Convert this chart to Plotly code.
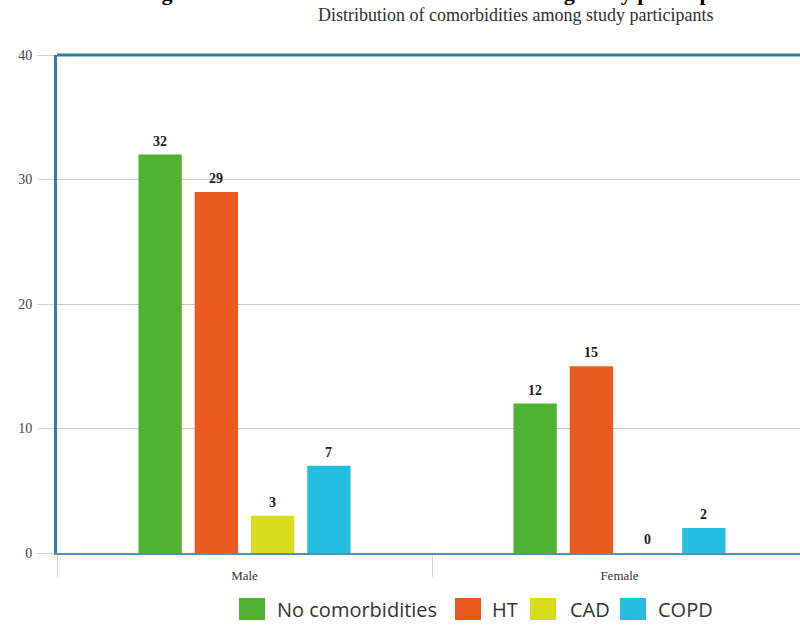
import plotly.graph_objects as go

categories = ["Male", "Female"]
series_names = ["No comorbidities", "HT", "CAD", "COPD"]
no_comorb = [32, 12]
ht = [29, 15]
cad = [3, 0]
copd = [7, 2]
series_values = [no_comorb, ht, cad, copd]
colors = ["#4fb232", "#ea5a1e", "#d6dc1e", "#25bde0"]
y_ticks = [0, 10, 20, 30, 40]

W, H = 800, 643
L, T, B = 57, 55, 90
PW = W - L
PH = H - T - B
CAT_PX = 375.0
BARGAP, GROUPGAP = 0.4, 0.23

def px_x(p):
    return (p - L) / PW

def px_y(p):
    return (H - B - p) / PH

serif = "Liberation Serif"
fig = go.Figure()
for name, vals, col in zip(series_names, series_values, colors):
    fig.add_trace(go.Bar(
        x=categories, y=vals, name=name, marker=dict(color=col, line=dict(width=0)),
        showlegend=False,
    ))

annotations = []
# value labels above bars
slot = CAT_PX * (1 - BARGAP) / len(series_names)
for i, vals in enumerate(series_values):
    off = (i - (len(series_names) - 1) / 2) * slot
    for cat, v in zip(categories, vals):
        annotations.append(dict(
            x=cat, y=v, xref="x", yref="y", text="<b>%d</b>" % v, showarrow=False,
            xanchor="center", yanchor="bottom", xshift=off, yshift=4,
            font=dict(family=serif, size=14, color="#1a1a1a")))

fig.update_layout(
    width=W, height=H,
    margin=dict(l=L, r=0, t=T, b=B),
    paper_bgcolor="white", plot_bgcolor="white",
    barmode="group", bargap=BARGAP, bargroupgap=GROUPGAP,
    xaxis=dict(
        range=[-0.5, -0.5 + PW / CAT_PX],
        showline=True, linecolor="#4f93b0", linewidth=2,
        tickson="boundaries", ticks="outside", ticklen=22, tickcolor="#c9d6dc", tickwidth=1,
        ticklabelstandoff=9,
        tickfont=dict(family=serif, size=13, color="#333"),
        showgrid=False,
    ),
    yaxis=dict(
        range=[0, 40], tickvals=y_ticks,
        showline=True, linecolor="#2f7f99", linewidth=3,
        showgrid=True, gridcolor="#c4c4c4", gridwidth=1,
        ticks="outside", ticklen=17, tickcolor="#d0d0d0",
        ticklabelstandoff=2,
        tickfont=dict(family=serif, size=14, color="#444"),
        zeroline=False,
    ),
    font=dict(family=serif),
)

annotations += [
    dict(text="<b>Figure 2: Distribution of comorbidities among study participants</b>",
         xref="paper", yref="paper",
         x=px_x(140), y=px_y(7), xanchor="left", yanchor="bottom", showarrow=False,
         font=dict(family=serif, size=22, color="#000")),
    dict(text="Distribution of comorbidities among study participants", xref="paper", yref="paper",
         x=px_x(515), y=px_y(15), xanchor="center", yanchor="middle", showarrow=False,
         font=dict(family=serif, size=18, color="#2e2e2e")),
]

shapes = [dict(type="line", xref="paper", yref="paper", x0=0, x1=1, y0=1, y1=1,
               line=dict(color="#2f7f99", width=3))]
# custom legend (large swatches)
legend_pos = [(239, 275), (455, 490), (530, 568), (620, 656)]
for (sx, tx), name, col in zip(legend_pos, series_names, colors):
    shapes.append(dict(type="rect", xref="paper", yref="paper",
                       x0=px_x(sx), x1=px_x(sx + 26), y0=px_y(620), y1=px_y(598),
                       fillcolor=col, line=dict(width=0)))
    annotations.append(dict(text=name, xref="paper", yref="paper", x=px_x(tx), y=px_y(609),
                            xanchor="left", yanchor="middle", showarrow=False,
                            font=dict(family="Open Sans", size=20, color="#333")))

fig.update_layout(annotations=annotations, shapes=shapes)
fig.write_html("out.html")
